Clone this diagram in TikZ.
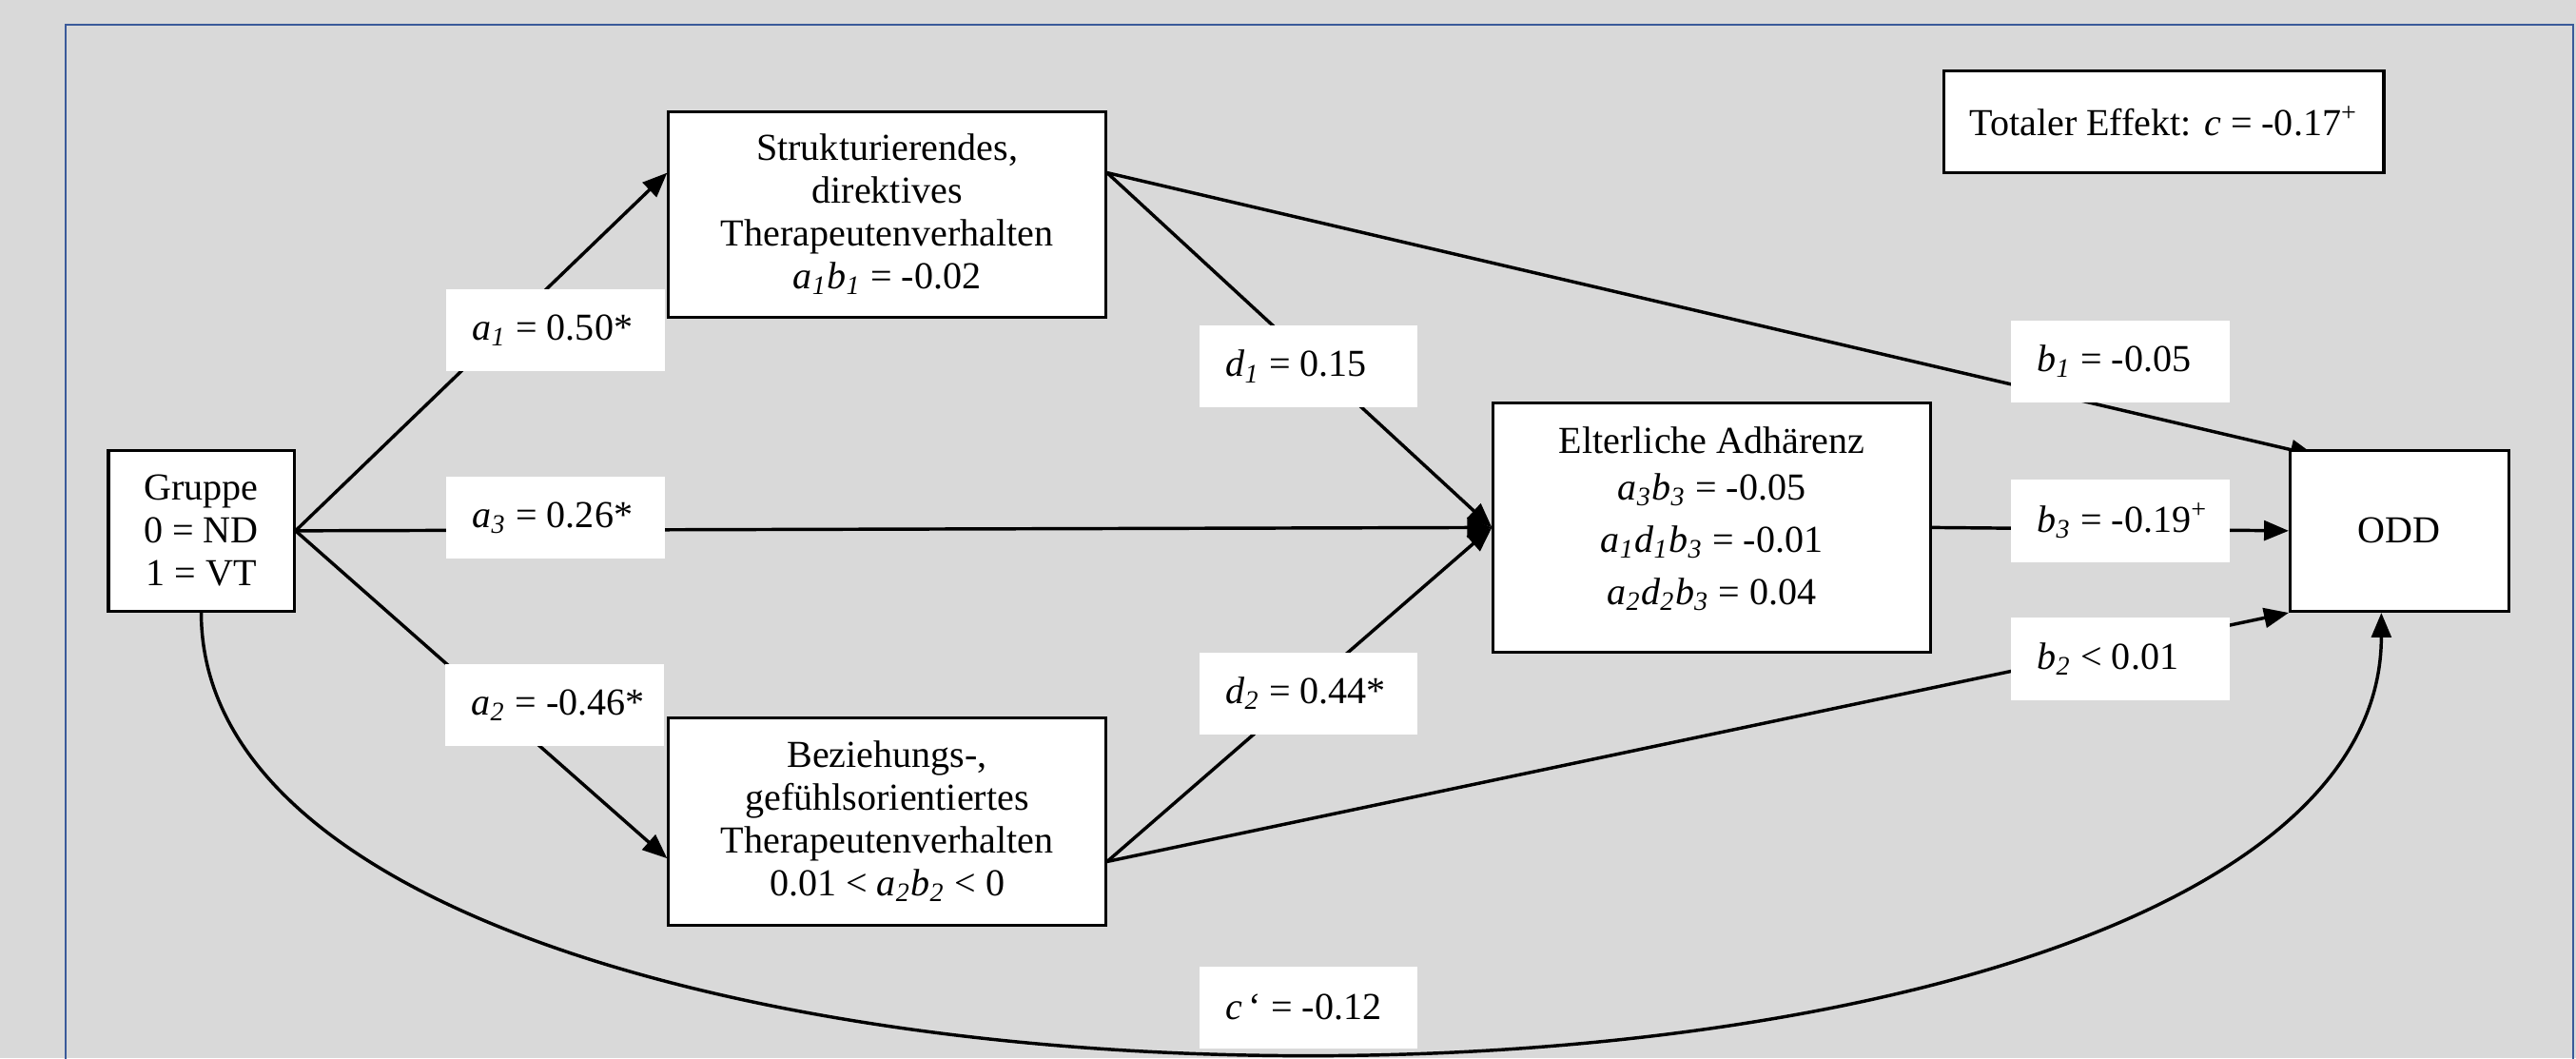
\documentclass[tikz,border=0pt]{standalone}
\usepackage{fontspec}
\setmainfont{Liberation Serif}
\usetikzlibrary{arrows.meta,calc}
\definecolor{bggray}{HTML}{D9D9D9}
\definecolor{frameblue}{HTML}{3A5A9A}
\newcommand\fsz{\fontsize{11.6pt}{13pt}\selectfont}
\newcommand\ivar[2]{\textit{#1}\textsubscript{\textit{#2}}}
\newcommand\lbltext[1]{\makebox[50.5pt][l]{#1}}
\tikzset{
  box/.style={draw=black, line width=0.9pt, fill=white, align=center, inner sep=0pt},
  lbl/.style={fill=white, inner sep=0pt, minimum width=66.5pt, minimum height=25pt, inner xsep=8pt},
  conn/.style={line width=1pt, -{Triangle[length=7.5pt,width=6pt]}},
  every node/.style={font=\fsz}
}
\begin{document}
\begin{tikzpicture}[x=0.5pt,y=-0.5pt]
\fill[bggray] (0,0) rectangle (1568,644);
\useasboundingbox (0,0) rectangle (1568,644);
\clip (0,0) rectangle (1568,644);
\draw[frameblue, line width=0.6pt] (40,700) -- (40,15) -- (1566,15) -- (1566,700);

% boxes
\node[box, minimum width=56.5pt, minimum height=49pt] (g) at (122.5,323) {Gruppe\\0 = ND\\1 = VT};
\node[box, minimum width=133pt, minimum height=62.5pt] (s) at (540,130.5) {Strukturierendes,\\direktives\\Therapeutenverhalten\\\ivar{a}{1}\ivar{b}{1} = -0.02};
\node[box, minimum width=133pt, minimum height=63pt] (bz) at (540,500) {Beziehungs-,\\gefühlsorientiertes\\Therapeutenverhalten\\0.01 {<} \ivar{a}{2}\ivar{b}{2} {<} 0};
\node[box, minimum width=133pt, minimum height=76pt, text depth=7pt] (e) at (1042,321) {Elterliche Adhärenz\\[1pt]\ivar{a}{3}\ivar{b}{3} = -0.05\\[3pt]\ivar{a}{1}\ivar{d}{1}\ivar{b}{3} = -0.01\\[3pt]\ivar{a}{2}\ivar{d}{2}\ivar{b}{3} = 0.04};
\node[box, minimum width=66.5pt, minimum height=49pt] (odd) at (1460.5,323) {ODD};
\node[box, minimum width=134pt, minimum height=31pt] (tot) at (1317,74) {Totaler Effekt: \textit{c} = -0.17\textsuperscript{+}};

% connectors
\coordinate (sE) at ($(s.north east)!0.3!(s.south east)$);
\coordinate (bzE) at ($(bz.north east)!0.69!(bz.south east)$);
\draw[conn] (g.east) -- ($(s.north west)!0.3!(s.south west)$);
\draw[conn] (g.east) -- ($(bz.north west)!0.675!(bz.south west)$);
\draw[conn] (g.east) -- (e.west);
\draw[conn] (sE) -- (e.west);
\draw[conn] (bzE) -- (e.west);
\draw[conn] (sE) -- ($(odd.north west)+(16,4)$);
\draw[conn] (bzE) -- (odd.south west);
\draw[conn] (e.east) -- (odd.west);
\draw[conn] (g.south) .. controls +(0,357) and +(0,357) .. ($(odd.south)+(-11,0)$);

% ODD box drawn again over the hidden arrow tip
\node[box, minimum width=66.5pt, minimum height=49pt] at (odd) {ODD};

% labels
\node[lbl] (la1) at (338,201) {\lbltext{\ivar{a}{1} = 0.50*}};
\node[lbl] (la3) at (338,315) {\lbltext{\ivar{a}{3} = 0.26*}};
\node[lbl] (la2) at (337.5,429) {\lbltext{\ivar{a}{2} = -0.46*}};
\node[lbl] (ld1) at (796.5,223) {\lbltext{\ivar{d}{1} = 0.15}};
\node[lbl] (ld2) at (796.5,422) {\lbltext{\ivar{d}{2} = 0.44*}};
\node[lbl] (lb1) at (1290.5,220) {\lbltext{\ivar{b}{1} = -0.05}};
\node[lbl] (lb3) at (1290.5,317) {\lbltext{\ivar{b}{3} = -0.19\textsuperscript{+}}};
\node[lbl] (lb2) at (1290.5,401) {\lbltext{\ivar{b}{2} {<} 0.01}};
\node[lbl] (lc) at (796.5,613) {\lbltext{\textit{c}\,‘ = -0.12}};
\end{tikzpicture}
\end{document}
